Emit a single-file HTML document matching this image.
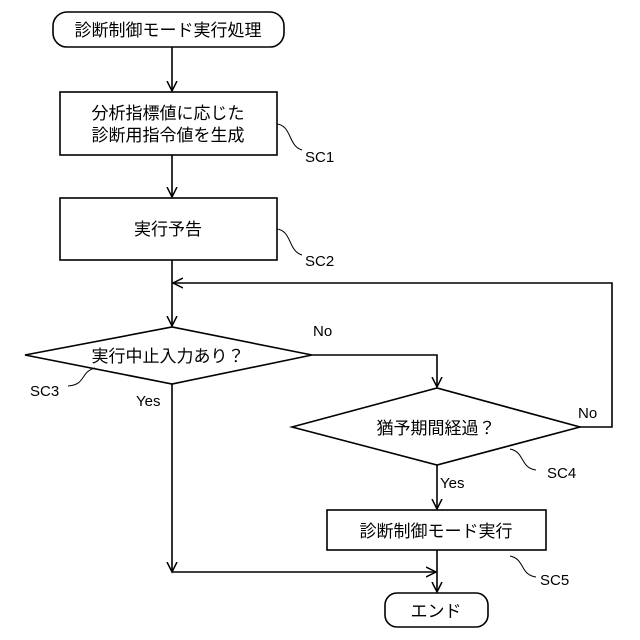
<!DOCTYPE html>
<html><head><meta charset="utf-8"><style>body{margin:0;background:#fff}svg{display:block}</style></head><body>
<svg width="640" height="640" viewBox="0 0 640 640" xmlns="http://www.w3.org/2000/svg" font-family="'Liberation Sans','Noto Sans CJK JP',sans-serif">
<defs>
<marker id="a" markerWidth="12" markerHeight="12" refX="10" refY="6" orient="auto" markerUnits="userSpaceOnUse"><path d="M0,1 L10,6 L0,11" fill="none" stroke="#000" stroke-width="1.5"/></marker></defs>
<g fill="none" stroke="#000" stroke-width="1.6">
<rect x="53" y="12" width="231" height="35" rx="14"/>
<rect x="60" y="92" width="217" height="63"/>
<rect x="60" y="198" width="217" height="62"/>
<polygon points="25,355 172,327 312,355 172,384"/>
<polygon points="292,427 437,388 580,427 437,465"/>
<rect x="327" y="510" width="219" height="40"/>
<rect x="385" y="593" width="103" height="34" rx="12"/>
<line x1="172" y1="47" x2="172" y2="91" marker-end="url(#a)"/>
<line x1="172" y1="155" x2="172" y2="197" marker-end="url(#a)"/>
<line x1="172" y1="260" x2="172" y2="326" marker-end="url(#a)"/>
<polyline points="580,427 612,427 612,283 173,283" marker-end="url(#a)"/>
<polyline points="312,355 437,355 437,387" marker-end="url(#a)"/>
<line x1="437" y1="465" x2="437" y2="509" marker-end="url(#a)"/>
<line x1="437" y1="550" x2="437" y2="592" marker-end="url(#a)"/>
<line x1="172" y1="384" x2="172" y2="572" marker-end="url(#a)"/>
<line x1="172" y1="572" x2="436" y2="572" marker-end="url(#a)"/>
<path d="M277,124 C292,126 288,146 302,150" stroke-width="1"/>
<path d="M277,229 C292,231 288,251 302,255" stroke-width="1"/>
<path d="M95,368 C80,372 86,385 68,386" stroke-width="1"/>
<path d="M510,449 C525,452 520,468 536,470" stroke-width="1"/>
<path d="M510,556 C525,559 520,575 536,577" stroke-width="1"/>
</g>
<g font-size="17" text-anchor="middle" fill="#000">
<text x="168" y="36">診断制御モード実行処理</text>
<text x="168" y="119">分析指標値に応じた</text>
<text x="168" y="141">診断用指令値を生成</text>
<text x="168" y="235">実行予告</text>
<text x="168" y="362">実行中止入力あり？</text>
<text x="436" y="434">猶予期間経過？</text>
<text x="436" y="537">診断制御モード実行</text>
<text x="436" y="617">エンド</text>
</g>
<g font-size="15" fill="#000">
<text x="305" y="162">SC1</text>
<text x="305" y="266">SC2</text>
<text x="30" y="396">SC3</text>
<text x="547" y="478">SC4</text>
<text x="540" y="585">SC5</text>
<text x="313" y="336">No</text>
<text x="578" y="418">No</text>
<text x="136" y="406">Yes</text>
<text x="440" y="488">Yes</text>
</g>
</svg>
</body></html>
